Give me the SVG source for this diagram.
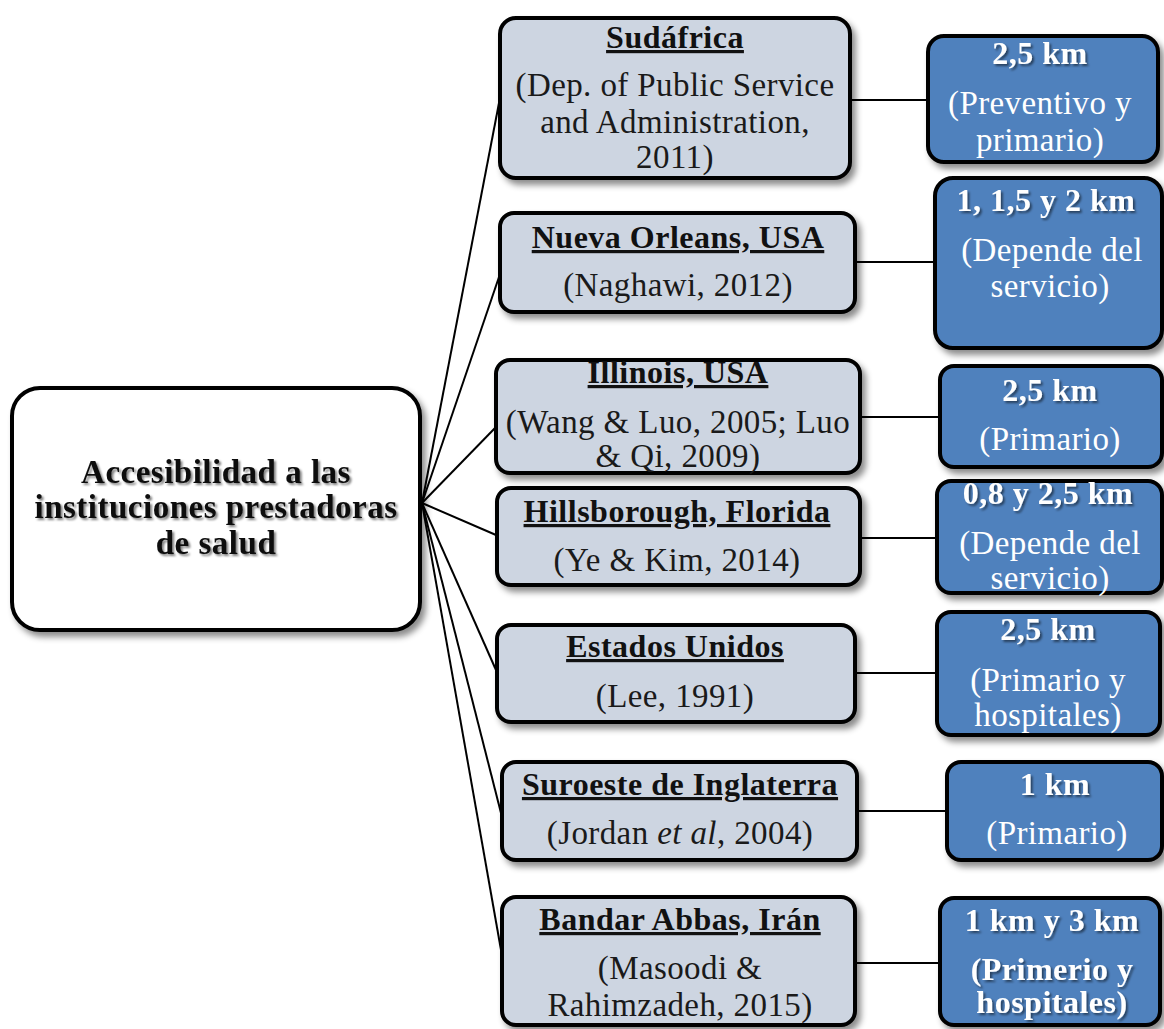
<svg xmlns="http://www.w3.org/2000/svg" width="1164" height="1029" viewBox="0 0 1164 1029">
<style>
.mid{fill:#cdd5e1;stroke:#000;stroke-width:4}
.blue{fill:#4f81bd;stroke:#000;stroke-width:4}
.main{fill:#fff;stroke:#000;stroke-width:4}
.t{font-family:"Liberation Serif","Times New Roman",serif;font-size:33px;letter-spacing:0.4px;text-anchor:middle;fill:#1a1a1a}
.h{font-family:"Liberation Serif","Times New Roman",serif;font-size:32px;letter-spacing:0.5px;font-weight:bold;text-anchor:middle;fill:#111;text-decoration:underline}
.w{font-family:"Liberation Serif","Times New Roman",serif;font-size:33px;letter-spacing:0.4px;text-anchor:middle;fill:#fff}
.wb{font-family:"Liberation Serif","Times New Roman",serif;font-size:32px;letter-spacing:0.5px;font-weight:bold;text-anchor:middle;fill:#fff}
.mt{font-family:"Liberation Serif","Times New Roman",serif;font-size:33px;letter-spacing:0.5px;font-weight:bold;text-anchor:middle;fill:#111}
.c{stroke:#000;stroke-width:2;fill:none}
</style>
<defs>
<filter id="sh" x="-10%" y="-10%" width="130%" height="130%">
<feDropShadow dx="4" dy="5" stdDeviation="3" flood-color="#000" flood-opacity="0.45"/>
</filter>
<filter id="ts" x="-10%" y="-30%" width="130%" height="170%">
<feDropShadow dx="2" dy="2" stdDeviation="1.2" flood-color="#000" flood-opacity="0.5"/>
</filter>
</defs>
<rect width="1164" height="1029" fill="#fff"/>
<g id="connectors">
<line class="c" x1="422" y1="503" x2="499" y2="103"/>
<line class="c" x1="422" y1="503" x2="499" y2="277"/>
<line class="c" x1="422" y1="503" x2="496" y2="427"/>
<line class="c" x1="422" y1="503" x2="496" y2="535"/>
<line class="c" x1="422" y1="503" x2="496" y2="670"/>
<line class="c" x1="422" y1="503" x2="501" y2="813"/>
<line class="c" x1="422" y1="503" x2="501" y2="950"/>
<line class="c" x1="850" y1="100" x2="928" y2="100"/>
<line class="c" x1="855" y1="262" x2="935" y2="262"/>
<line class="c" x1="860" y1="417" x2="940" y2="417"/>
<line class="c" x1="860" y1="538" x2="937" y2="538"/>
<line class="c" x1="855" y1="673" x2="937" y2="673"/>
<line class="c" x1="857" y1="811" x2="947" y2="811"/>
<line class="c" x1="855" y1="963" x2="940" y2="963"/>
</g>
<g id="main">
<rect class="main" x="12" y="388" width="408" height="242" rx="28" filter="url(#sh)"/>
<g filter="url(#ts)">
<text class="mt" x="216" y="483">Accesibilidad a las</text>
<text class="mt" x="216" y="518">instituciones prestadoras</text>
<text class="mt" x="216" y="554">de salud</text>
</g>
</g>
<g id="n1">
<rect class="mid" x="500" y="18" width="350" height="160" rx="16" filter="url(#sh)"/>
<text class="h" x="675" y="48">Sudáfrica</text>
<text class="t" x="675" y="96">(Dep. of Public Service</text>
<text class="t" x="675" y="133">and Administration,</text>
<text class="t" x="675" y="168">2011)</text>
</g>
<g id="n2">
<rect class="mid" x="500" y="213" width="355" height="99" rx="14" filter="url(#sh)"/>
<text class="h" x="678" y="248">Nueva Orleans, USA</text>
<text class="t" x="678" y="296">(Naghawi, 2012)</text>
</g>
<g id="n3">
<rect class="mid" x="496" y="360" width="364" height="113" rx="14" filter="url(#sh)"/>
<text class="h" x="678" y="383">Illinois, USA</text>
<text class="t" x="678" y="433">(Wang &amp; Luo, 2005; Luo</text>
<text class="t" x="678" y="467">&amp; Qi, 2009)</text>
</g>
<g id="n4">
<rect class="mid" x="497" y="488" width="363" height="97" rx="14" filter="url(#sh)"/>
<text class="h" x="677" y="522">Hillsborough, Florida</text>
<text class="t" x="677" y="571">(Ye &amp; Kim,  2014)</text>
</g>
<g id="n5">
<rect class="mid" x="497" y="625" width="358" height="97" rx="14" filter="url(#sh)"/>
<text class="h" x="675" y="657">Estados Unidos</text>
<text class="t" x="675" y="707">(Lee, 1991)</text>
</g>
<g id="n6">
<rect class="mid" x="502" y="762" width="355" height="98" rx="14" filter="url(#sh)"/>
<text class="h" x="680" y="795">Suroeste de Inglaterra</text>
<text class="t" x="680" y="844">(Jordan <tspan font-style="italic">et al</tspan>, 2004)</text>
</g>
<g id="n7">
<rect class="mid" x="502" y="897" width="353" height="128" rx="14" filter="url(#sh)"/>
<text class="h" x="680" y="930">Bandar Abbas, Irán</text>
<text class="t" x="680" y="979">(Masoodi &amp;</text>
<text class="t" x="680" y="1016">Rahimzadeh, 2015)</text>
</g>
<g id="b1">
<rect class="blue" x="928" y="36" width="230" height="126" rx="16" filter="url(#sh)"/>
<text class="wb" x="1040" y="64" filter="url(#ts)">2,5 km</text>
<text class="w" x="1040" y="114">(Preventivo y</text>
<text class="w" x="1040" y="151">primario)</text>
</g>
<g id="b2">
<rect class="blue" x="935" y="178" width="227" height="170" rx="18" filter="url(#sh)"/>
<text class="wb" x="1046" y="211" filter="url(#ts)">1, 1,5 y 2 km</text>
<text class="w" x="1052" y="261">(Depende del</text>
<text class="w" x="1050" y="297">servicio)</text>
</g>
<g id="b3">
<rect class="blue" x="940" y="366" width="222" height="101" rx="14" filter="url(#sh)"/>
<text class="wb" x="1050" y="401" filter="url(#ts)">2,5 km</text>
<text class="w" x="1050" y="450">(Primario)</text>
</g>
<g id="b4">
<rect class="blue" x="937" y="481" width="225" height="112" rx="14" filter="url(#sh)"/>
<text class="wb" x="1048" y="504" filter="url(#ts)">0,8 y 2,5 km</text>
<text class="w" x="1050" y="554">(Depende del</text>
<text class="w" x="1050" y="589">servicio)</text>
</g>
<g id="b5">
<rect class="blue" x="937" y="612" width="223" height="123" rx="14" filter="url(#sh)"/>
<text class="wb" x="1048" y="640" filter="url(#ts)">2,5 km</text>
<text class="w" x="1048" y="691">(Primario y</text>
<text class="w" x="1048" y="726">hospitales)</text>
</g>
<g id="b6">
<rect class="blue" x="947" y="762" width="215" height="98" rx="14" filter="url(#sh)"/>
<text class="wb" x="1055" y="795" filter="url(#ts)">1 km</text>
<text class="w" x="1057" y="844">(Primario)</text>
</g>
<g id="b7">
<rect class="blue" x="940" y="898" width="220" height="127" rx="14" filter="url(#sh)"/>
<g filter="url(#ts)">
<text class="wb" x="1052" y="931">1 km y 3 km</text>
<text class="wb" x="1052" y="980">(Primerio y</text>
<text class="wb" x="1052" y="1013">hospitales)</text>
</g>
</g>
</svg>
